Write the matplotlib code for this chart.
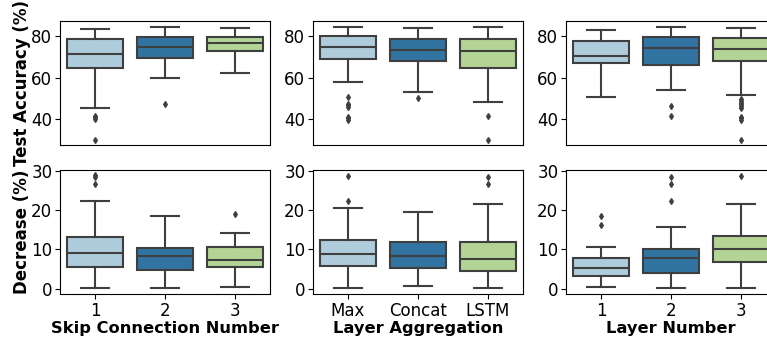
"""Box plots of test accuracy / accuracy decrease vs. architecture choices."""

import colorsys

import matplotlib
matplotlib.use("Agg")
import matplotlib.pyplot as plt
from matplotlib.colors import to_rgb

PALETTE = ["#a6cee3", "#1f78b4", "#b2df8a"]
LINE = "#3f3f3f"

# x labels / categories per column
col_titles = ["Skip Connection Number", "Layer Aggregation", "Layer Number"]
skip_cats = ["1", "2", "3"]
agg_cats = ["Max", "Concat", "LSTM"]
layer_cats = ["1", "2", "3"]

# box stats: (whislo, q1, med, q3, whishi)
skip_acc = [(45.3, 64.7, 71.2, 78.4, 83.5), (59.8, 69.6, 74.9, 79.4, 84.5), (62.0, 72.8, 76.9, 79.5, 83.9)]
skip_acc_fliers = [[41.6, 40.8, 39.8, 30.0], [47.1], []]
agg_acc = [(58.0, 69.1, 74.9, 80.3, 84.3), (52.9, 68.1, 73.3, 78.6, 83.9), (48.4, 64.7, 72.8, 78.6, 84.5)]
agg_acc_fliers = [[50.8, 47.5, 46.6, 45.8, 41.2, 40.4, 39.6], [50.4], [41.4, 30.0]]
layer_acc = [(50.6, 67.0, 70.5, 77.8, 82.9), (54.0, 66.3, 74.5, 79.5, 84.5), (51.6, 68.0, 73.6, 78.9, 83.9)]
layer_acc_fliers = [[], [46.3, 41.4], [49.6, 48.6, 47.8, 47.1, 46.3, 45.5, 41.1, 40.3, 39.5, 30.0]]

skip_dec = [(0.2, 5.5, 9.2, 13.2, 22.4), (0.2, 4.8, 8.3, 10.4, 18.6), (0.4, 5.6, 7.3, 10.5, 14.1)]
skip_dec_fliers = [[28.9, 28.5, 26.5], [], [19.0]]
agg_dec = [(0.2, 5.9, 8.9, 12.3, 20.5), (0.8, 5.4, 8.3, 11.8, 19.5), (0.2, 4.6, 7.6, 11.8, 21.5)]
agg_dec_fliers = [[28.7, 22.3], [], [28.3, 26.5]]
layer_dec = [(0.4, 3.2, 5.2, 7.9, 10.7), (0.2, 4.0, 7.7, 10.2, 15.7), (0.2, 6.7, 10.0, 13.5, 21.5)]
layer_dec_fliers = [[18.4, 16.3], [28.3, 26.5, 22.3], [28.7]]


def desat(c, s=0.75):
    h, l, sat = colorsys.rgb_to_hls(*to_rgb(c))
    return colorsys.hls_to_rgb(h, l, sat * s)


def draw(ax, stats, fliers, cats):
    data = [dict(whislo=a, q1=b, med=m, q3=c, whishi=d, fliers=f, label=lab)
            for (a, b, m, c, d), f, lab in zip(stats, fliers, cats)]
    bp = ax.bxp(data, positions=range(len(data)), widths=0.8, patch_artist=True,
                boxprops=dict(edgecolor=LINE, linewidth=1.5),
                whiskerprops=dict(color=LINE, linewidth=1.5),
                capprops=dict(color=LINE, linewidth=1.5),
                medianprops=dict(color=LINE, linewidth=1.5),
                flierprops=dict(marker="d", markersize=3, markerfacecolor=LINE,
                                markeredgecolor=LINE))
    for patch, col in zip(bp["boxes"], PALETTE):
        patch.set_facecolor(desat(col))
    ax.set_xlim(-0.5, len(data) - 0.5)


fig = plt.figure(figsize=(7.67, 3.41), dpi=100)
lefts = [60 / 767, 313 / 767, 566 / 767]
w = 210 / 767
h = 124 / 341
bottoms = [1 - 145 / 341, 1 - 294.3 / 341]

rows = [
    [(skip_acc, skip_acc_fliers), (agg_acc, agg_acc_fliers), (layer_acc, layer_acc_fliers)],
    [(skip_dec, skip_dec_fliers), (agg_dec, agg_dec_fliers), (layer_dec, layer_dec_fliers)],
]
cats_all = [skip_cats, agg_cats, layer_cats]

for r, row in enumerate(rows):
    for c, (stats, fl) in enumerate(row):
        ax = fig.add_axes([lefts[c], bottoms[r], w, h])
        draw(ax, stats, fl, cats_all[c])
        ax.tick_params(labelsize=12, pad=2)
        if r == 0:
            ax.set_ylim(27.5, 87.3)
            ax.set_yticks([40, 60, 80])
            ax.set_xticks([])
            if c == 0:
                ax.set_ylabel("Test Accuracy (%)", fontsize=12, fontweight="bold", labelpad=0)
        else:
            ax.set_ylim(-1.4, 30.1)
            ax.set_yticks([0, 10, 20, 30])
            ax.set_xlabel(col_titles[c], fontsize=11.7, fontweight="bold", labelpad=1)
            if c == 0:
                ax.set_ylabel("Decrease (%)", fontsize=12, fontweight="bold", labelpad=0)

fig.savefig("out.png", dpi=100)
